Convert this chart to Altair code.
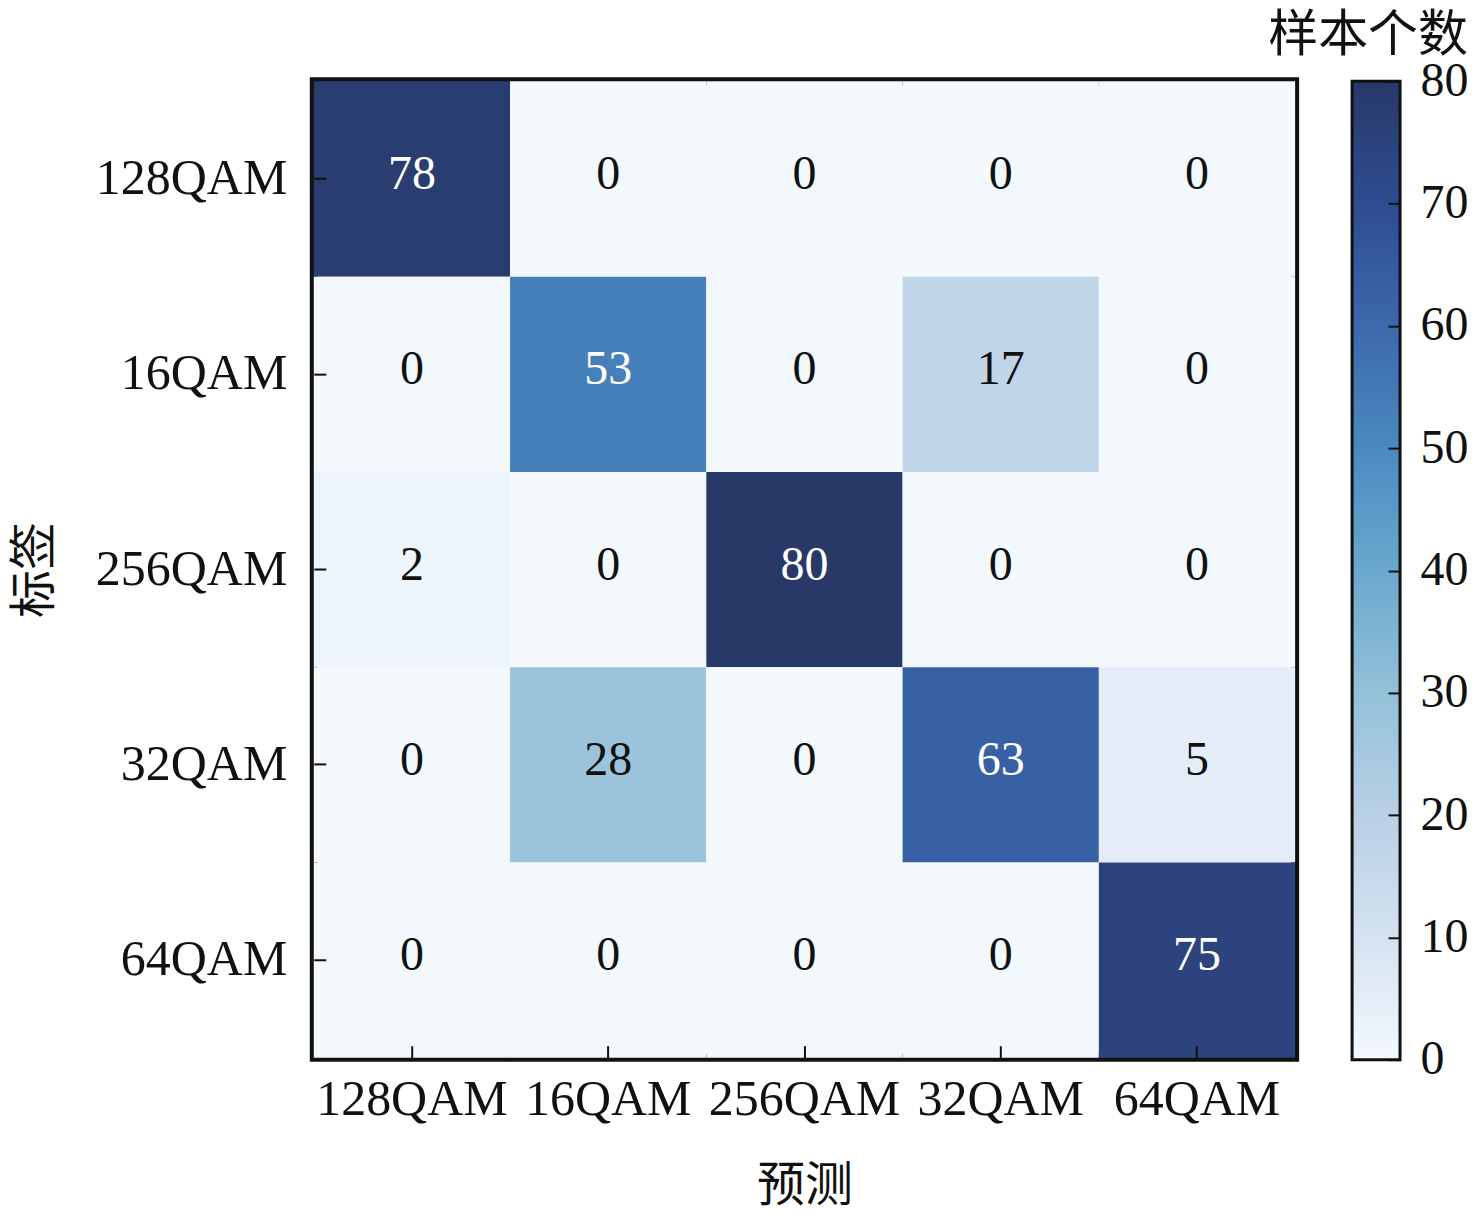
import altair as alt
import pandas as pd

FONT = "Liberation Serif, Noto Sans CJK SC"

labels = ["128QAM", "16QAM", "256QAM", "32QAM", "64QAM"]
row_128 = [78, 0, 0, 0, 0]
row_16 = [0, 53, 0, 17, 0]
row_256 = [2, 0, 80, 0, 0]
row_32 = [0, 28, 0, 63, 5]
row_64 = [0, 0, 0, 0, 75]
rows = [row_128, row_16, row_256, row_32, row_64]

cbar_ticks = [0, 10, 20, 30, 40, 50, 60, 70, 80]
cbar_colors = ["#f3f8fd", "#d4e2f1", "#b9d0e6", "#93c1d8", "#6aa8cf",
               "#4a8ac0", "#3c68ac", "#2f4c92", "#283968"]

records = []
for tl, vals in zip(labels, rows):
    for pl, v in zip(labels, vals):
        records.append({"true": tl, "pred": pl, "n": v})
df = pd.DataFrame(records)

color_scale = alt.Scale(domain=cbar_ticks, range=cbar_colors, interpolate="rgb")

base = alt.Chart(df).encode(
    x=alt.X("pred:N", sort=labels,
            axis=alt.Axis(title="预测", labelAngle=0, labelFont=FONT, labelFontSize=50,
                          labelColor="#111", labelLimit=500, titleFont=FONT, titleFontSize=48,
                          titleFontWeight="normal", titleColor="#111",
                          tickSize=12, tickWidth=2, tickColor="#111", offset=-12,
                          domain=False, labelPadding=17, titlePadding=38, zindex=1)),
    y=alt.Y("true:N", sort=labels,
            axis=alt.Axis(title="标签", labelFont=FONT, labelFontSize=50,
                          labelColor="#111", labelLimit=500, titleFont=FONT, titleFontSize=48,
                          titleFontWeight="normal", titleColor="#111",
                          tickSize=12, tickWidth=2, tickColor="#111", offset=-12,
                          domain=False, labelPadding=27, titlePadding=66, zindex=1)),
)

rect = base.mark_rect().encode(
    color=alt.Color("n:Q", scale=color_scale, legend=None)
)
text = base.mark_text(font=FONT, fontSize=48, dy=-4).encode(
    text="n:Q",
    color=alt.condition(alt.datum.n > 40, alt.value("white"), alt.value("#111")),
)

main = (rect + text).properties(
    width=982, height=977,
    view=alt.ViewBackground(stroke="#111", strokeWidth=8),
)

cb_df = pd.DataFrame({"lo": [cbar_ticks[0]], "hi": [cbar_ticks[-1]]})
span = cbar_ticks[-1] - cbar_ticks[0]
stops = [alt.GradientStop(offset=(v - cbar_ticks[0]) / span, color=c)
         for v, c in zip(cbar_ticks, cbar_colors)]

cbar = alt.Chart(cb_df).mark_rect(
    fill=alt.LinearGradient(gradient="linear", stops=stops, x1=0, x2=0, y1=1, y2=0),
    stroke="#111", strokeWidth=3,
).encode(
    y=alt.Y("hi:Q", scale=alt.Scale(domain=[0, 80], nice=False),
            axis=alt.Axis(orient="right", title=None, values=cbar_ticks,
                          labelFont=FONT, labelFontSize=48, labelColor="#111",
                          tickSize=12, tickWidth=2, tickColor="#111", offset=-12,
                          domain=False, labelPadding=20, grid=False, zindex=1)),
    y2="lo:Q",
).properties(
    width=48, height=979,
    view=alt.ViewBackground(strokeWidth=0),
    title=alt.TitleParams("样本个数", anchor="end", font=FONT, fontSize=50,
                          fontWeight="normal", color="#111", offset=-4),
)

chart = alt.hconcat(main, cbar, spacing=57, bounds="flush").properties(
    padding={"left": 0, "right": 0, "top": 3, "bottom": 0}
).configure(background="white")

chart.save("out.html", embed_options={"renderer": "svg", "actions": False})
